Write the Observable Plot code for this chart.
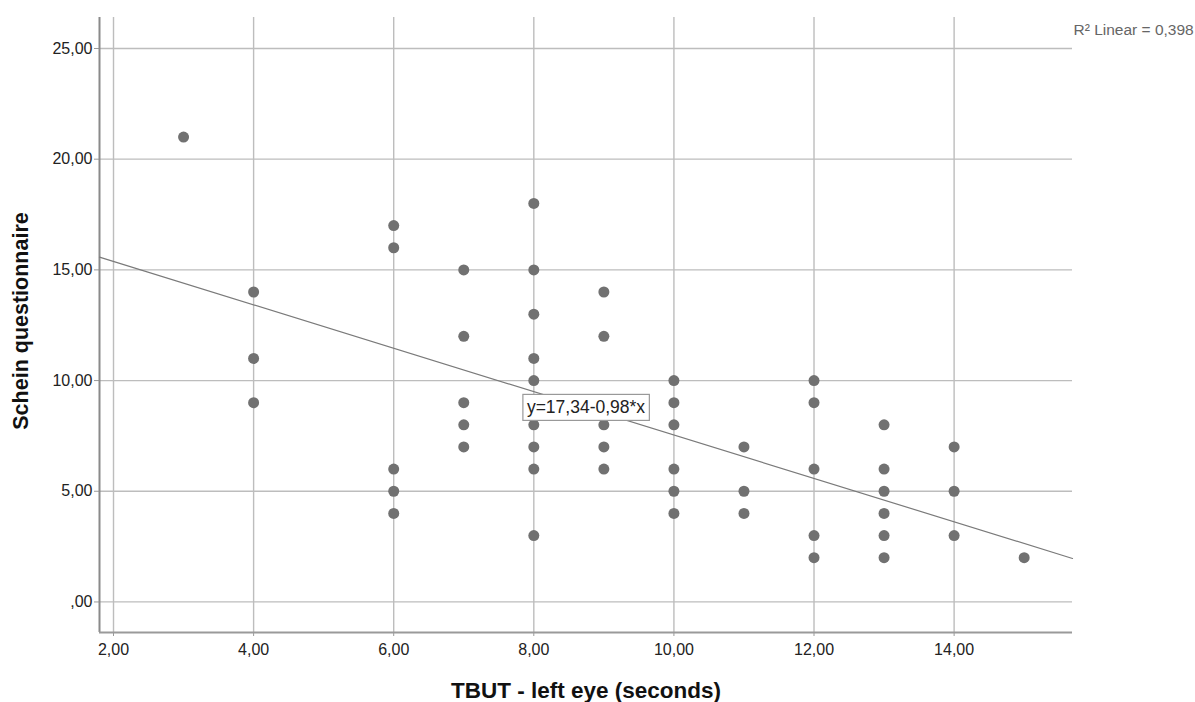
<!DOCTYPE html>
<html>
<head>
<meta charset="utf-8">
<script src="https://cdn.jsdelivr.net/npm/d3@7"></script>
<script src="https://cdn.jsdelivr.net/npm/@observablehq/plot@0.6"></script>
<style>
  html, body { margin: 0; padding: 0; background: #fff; }
  svg { display: block; }
</style>
</head>
<body>
<script>
// TBUT (x) vs Schein questionnaire (y)
const tbut = [3, 4, 4, 4, 6, 6, 6, 6, 6, 7, 7, 7, 7, 7,
  8, 8, 8, 8, 8, 8, 8, 8, 8, 9, 9, 9, 9, 9,
  10, 10, 10, 10, 10, 10, 11, 11, 11, 12, 12, 12, 12, 12,
  13, 13, 13, 13, 13, 13, 14, 14, 14, 15];
const schein = [21, 14, 11, 9, 17, 16, 6, 5, 4, 15, 12, 9, 8, 7,
  18, 15, 13, 11, 10, 8, 7, 6, 3, 14, 12, 8, 7, 6,
  10, 9, 8, 6, 5, 4, 7, 5, 4, 10, 9, 6, 3, 2,
  8, 6, 5, 4, 3, 2, 7, 5, 3, 2];
const xTicks = [2, 4, 6, 8, 10, 12, 14];
const yTicks = [0, 5, 10, 15, 20, 25];
const xDomain = [1.8, 15.69];
const yDomain = [-1.38, 26.4];
const intercept = 17.34;
const slope = -0.98;
const r2Label = "R² Linear = 0,398";
const equationLabel = "y=17,34-0,98*x";
const xTitle = "TBUT - left eye (seconds)";
const yTitle = "Schein questionnaire";

const points = tbut.map((x, i) => ({x, y: schein[i]}));
const fitLine = xDomain.map(x => ({x, y: intercept + slope * x}));
const midX = (xDomain[0] + xDomain[1]) / 2;
const eq = [{x: midX, y: intercept + slope * midX, label: equationLabel}];

const fmt = d => d === 0 ? ",00" : d.toFixed(2).replace(".", ",");

const chart = Plot.plot({
  width: 1195,
  height: 702,
  marginLeft: 99,
  marginRight: 123,
  marginTop: 17,
  marginBottom: 70,
  style: {fontFamily: "'Liberation Sans', Arial, sans-serif", background: "#fff", color: "#222"},
  x: {domain: xDomain},
  y: {domain: yDomain},
  marks: [
    Plot.gridX(xTicks, {stroke: "#bdbdbd", strokeOpacity: 1, strokeWidth: 1.4}),
    Plot.gridY(yTicks, {stroke: "#bdbdbd", strokeOpacity: 1, strokeWidth: 1.3}),
    Plot.axisX(xTicks, {tickFormat: fmt, tickSize: 4, tickPadding: 7, fontSize: 16, label: null, stroke: "#999"}),
    Plot.axisY(yTicks, {tickFormat: fmt, tickSize: 5, tickPadding: 2, fontSize: 16, label: null, stroke: "#999"}),
    Plot.ruleX([xDomain[0]], {stroke: "#8a8a8a", strokeWidth: 2}),
    Plot.ruleY([yDomain[0]], {stroke: "#9a9a9a", strokeWidth: 2}),
    Plot.line(fitLine, {x: "x", y: "y", stroke: "#7a7a7a", strokeWidth: 1.2}),
    Plot.dot(points, {x: "x", y: "y", r: 5.5, fill: "#717171", stroke: "none"}),
    Plot.text(eq, {x: "x", y: "y", text: "label", fontSize: 17.5, fill: "#222", className: "eqlabel"}),
    Plot.text([r2Label], {frameAnchor: "top-right", textAnchor: "start", lineAnchor: "middle", dx: 1, dy: 13, fontSize: 15.5, fill: "#666"}),
    Plot.text([xTitle], {frameAnchor: "bottom", textAnchor: "middle", lineAnchor: "middle", dy: 58, fontSize: 22.5, fontWeight: "bold", fill: "#111"}),
    Plot.text([yTitle], {frameAnchor: "left", textAnchor: "middle", lineAnchor: "middle", dx: -78, dy: -4, rotate: -90, fontSize: 21.5, fontWeight: "bold", fill: "#111"})
  ]
});
document.body.append(chart);

// white box with border behind the equation label
const svg = d3.select(chart);
svg.selectAll("g.eqlabel text").each(function() {
  const bb = this.getBBox();
  const tr = this.getAttribute("transform");
  d3.select(this.parentNode).insert("rect", () => this)
    .attr("x", bb.x - 4).attr("y", bb.y - 3)
    .attr("width", bb.width + 8).attr("height", bb.height + 6)
    .attr("transform", tr)
    .attr("fill", "#fff").attr("stroke", "#999").attr("stroke-width", 1.2);
});
</script>
</body>
</html>
